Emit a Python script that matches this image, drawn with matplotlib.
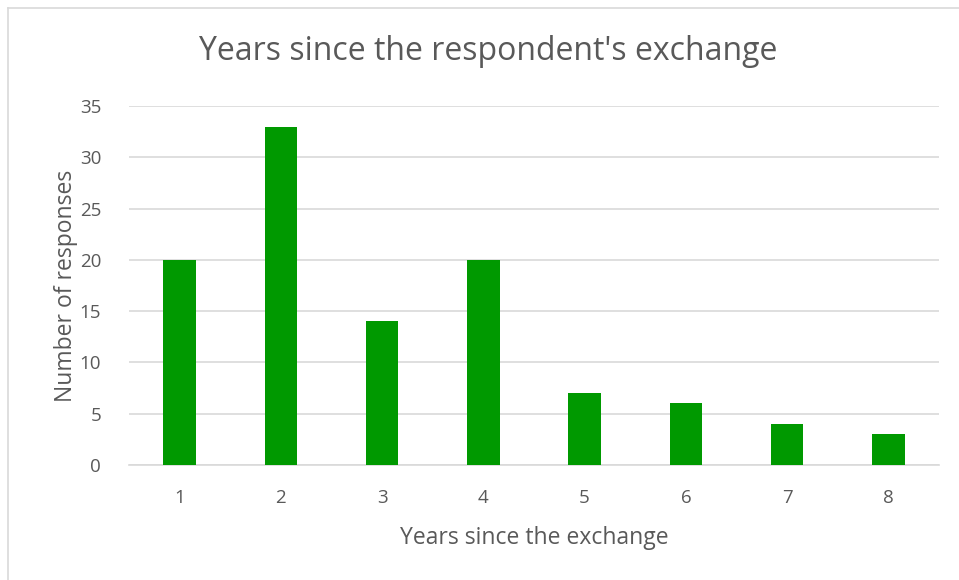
import numpy as np
from matplotlib import pyplot as plt
from matplotlib.lines import Line2D

# data
years = ['1', '2', '3', '4', '5', '6', '7', '8']
responses = [20, 33, 14, 20, 7, 6, 4, 3]

text_color = '#595959'
plt.rcParams['font.family'] = ['Open Sans', 'DejaVu Sans']

fig = plt.figure(figsize=(9.59, 5.80), dpi=100)
ax = fig.add_axes([129/959, 115/580, 810/959, 359/580])

x = np.arange(len(years))
ax.bar(x, responses, width=0.32, color='#009900', zorder=3)

ax.set_xlim(-0.5, len(years) - 0.5)
ax.set_ylim(0, 35)
ax.set_yticks(range(0, 36, 5))
ax.set_xticks(x)
ax.set_xticklabels(years)
ax.grid(axis='y', color='#d9d9d9', linewidth=1.2, zorder=0)
ax.tick_params(length=0, labelsize=13.5, colors=text_color)
ax.tick_params(axis='x', pad=17)
ax.tick_params(axis='y', pad=20)
for side in ['top', 'right', 'left']:
    ax.spines[side].set_visible(False)
ax.spines['bottom'].set_color('#d9d9d9')
ax.spines['bottom'].set_linewidth(1.2)

ax.set_xlabel('Years since the exchange', fontsize=16.5, color=text_color, labelpad=14)
ax.set_ylabel('Number of responses', fontsize=16.5, color=text_color, labelpad=1)
fig.text(488/959, 1 - 52/580, "Years since the respondent's exchange",
         fontsize=23, color=text_color, ha='center', va='center')

# chart border (right and bottom edges fall outside the picture)
fig.add_artist(Line2D([8/959, 8/959], [0, 1 - 8/580], color='#d9d9d9', lw=1.2))
fig.add_artist(Line2D([8/959, 1], [1 - 8/580, 1 - 8/580], color='#d9d9d9', lw=1.2))

fig.savefig('out.png', dpi=100)
